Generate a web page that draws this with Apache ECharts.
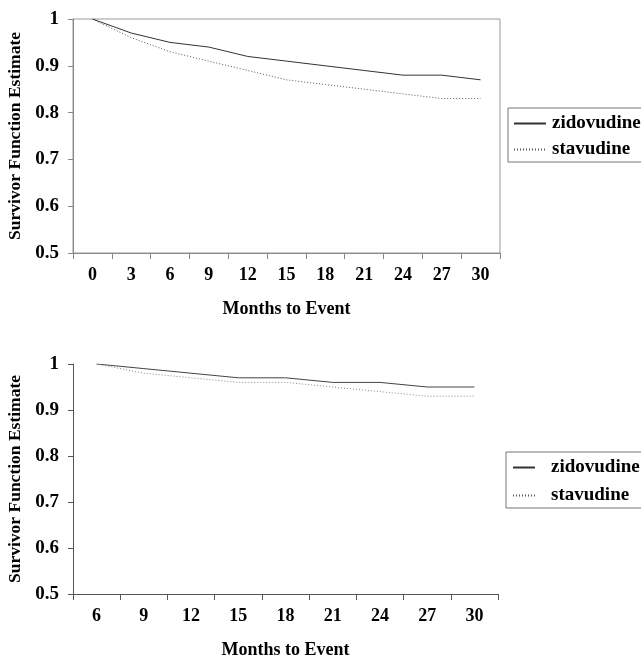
<!DOCTYPE html>
<html>
<head>
<meta charset="utf-8">
<script src="https://cdn.jsdelivr.net/npm/echarts@6/dist/echarts.min.js"></script>
<style>
html,body{margin:0;padding:0;background:#fff;}
#chart{width:641px;height:662px;}
</style>
</head>
<body>
<div id="chart"></div>
<script>
const topMonths = ['0','3','6','9','12','15','18','21','24','27','30'];
const topZidovudine = [1, 0.97, 0.95, 0.94, 0.92, 0.91, 0.90, 0.89, 0.88, 0.88, 0.87];
const topStavudine = [1, 0.96, 0.93, 0.91, 0.89, 0.87, 0.86, 0.85, 0.84, 0.83, 0.83];

const bottomMonths = ['6','9','12','15','18','21','24','27','30'];
const bottomZidovudine = [1, 0.99, 0.98, 0.97, 0.97, 0.96, 0.96, 0.95, 0.95];
const bottomStavudine = [1, 0.98, 0.97, 0.96, 0.96, 0.95, 0.94, 0.93, 0.93];

const seriesNames = ['zidovudine', 'stavudine'];
const yAxisTitle = 'Survivor Function Estimate';
const xAxisTitle = 'Months to Event';

const FONT = '"Liberation Serif", "DejaVu Serif", serif';

function xAxisDef(gridIndex, cats, axisColor) {
  return {
    type: 'category',
    gridIndex: gridIndex,
    data: cats,
    boundaryGap: true,
    axisLine: { lineStyle: { color: axisColor, width: 1 } },
    axisTick: { show: true, length: 6, lineStyle: { color: axisColor } },
    axisLabel: { color: '#000', fontFamily: FONT, fontWeight: 'bold', fontSize: 18, margin: 13 },
    name: xAxisTitle,
    nameLocation: 'middle',
    nameGap: 47,
    nameTextStyle: { color: '#000', fontFamily: FONT, fontWeight: 'bold', fontSize: 18 },
    splitLine: { show: false }
  };
}
function yAxisDef(gridIndex, axisColor) {
  return {
    type: 'value',
    gridIndex: gridIndex,
    min: 0.5, max: 1, interval: 0.1,
    axisLine: { show: true, lineStyle: { color: axisColor, width: 1 } },
    axisTick: { show: true, length: 5, lineStyle: { color: axisColor } },
    axisLabel: { color: '#000', fontFamily: FONT, fontWeight: 'bold', fontSize: 19, margin: 14 },
    splitLine: { show: false },
    name: yAxisTitle,
    nameLocation: 'middle',
    nameGap: 49,
    nameRotate: 90,
    nameTextStyle: { color: '#000', fontFamily: FONT, fontWeight: 'bold', fontSize: 17.5 }
  };
}
function legendDef(left, top, padding, gap, itemWidth, textPad) {
  return {
    orient: 'vertical',
    left: left, top: top,
    data: seriesNames,
    padding: padding,
    itemGap: gap,
    itemWidth: itemWidth,
    itemHeight: 10,
    borderColor: '#777',
    borderWidth: 1,
    borderRadius: 0,
    selectedMode: false,
    itemStyle: { color: 'rgba(0,0,0,0)', borderWidth: 0, opacity: 0 },
    textStyle: { color: '#000', fontFamily: FONT, fontWeight: 'bold', fontSize: 19, padding: textPad }
  };
}

const chart = echarts.init(document.getElementById('chart'), null, { renderer: 'canvas' });
chart.setOption({
  backgroundColor: '#fff',
  animation: false,
  grid: [
    { left: 73, top: 19, width: 427, height: 234, show: true, borderColor: '#999', borderWidth: 1, backgroundColor: 'transparent', outerBoundsMode: 'none', containLabel: false },
    { left: 73, top: 364, width: 425, height: 230, show: false, outerBoundsMode: 'none', containLabel: false }
  ],
  xAxis: [ xAxisDef(0, topMonths, '#888'), xAxisDef(1, bottomMonths, '#555') ],
  yAxis: [ yAxisDef(0, '#888'), yAxisDef(1, '#555') ],
  legend: [
    legendDef(508, 108, [6, 6, 3, 5], 7, 32, [0, 0, 0, 1]),
    legendDef(506, 452, [6, 3, 3, 6], 9, 22, [0, 0, 0, 11])
  ],
  series: [
    { name: seriesNames[0], type: 'line', xAxisIndex: 0, yAxisIndex: 0, data: topZidovudine, symbol: 'none', lineStyle: { color: '#333', width: 1, type: 'solid' }, itemStyle: { color: '#333' } },
    { name: seriesNames[1], type: 'line', xAxisIndex: 0, yAxisIndex: 0, data: topStavudine, symbol: 'none', lineStyle: { color: '#555', width: 1, type: [1, 2] }, itemStyle: { color: '#555' } },
    { name: seriesNames[0], type: 'line', xAxisIndex: 1, yAxisIndex: 1, data: bottomZidovudine, symbol: 'none', lineStyle: { color: '#444', width: 1, type: 'solid' }, itemStyle: { color: '#444' } },
    { name: seriesNames[1], type: 'line', xAxisIndex: 1, yAxisIndex: 1, data: bottomStavudine, symbol: 'none', lineStyle: { color: '#888', width: 1, type: [1, 2] }, itemStyle: { color: '#888' } }
  ]
});
</script>
</body>
</html>
